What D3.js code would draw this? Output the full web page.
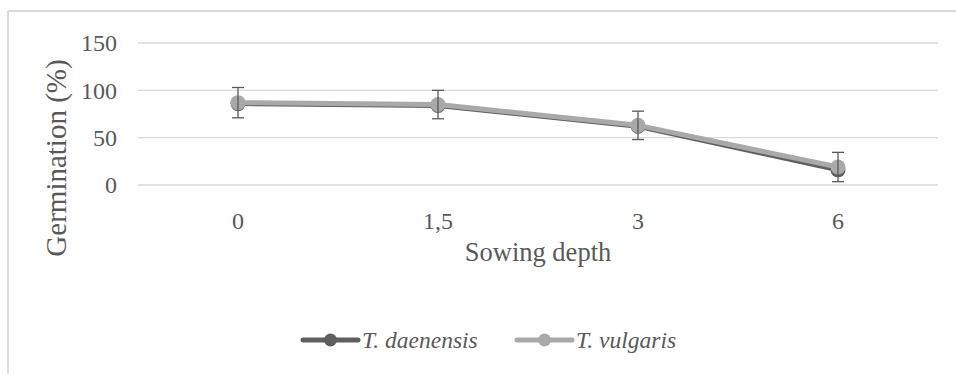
<html>
<head>
<meta charset="utf-8">
<script src="https://d3js.org/d3.v7.min.js"></script>
<style>
    body { margin: 0; background: white; }
    text { font-family: "Liberation Serif", "Times New Roman", serif; fill: #595959; }
</style>
</head>
<body>
<script>
    var width = 956, height = 374;

    // data
    let depths = ["0", "1,5", "3", "6"];
    let daenensis = [86, 84, 62, 16];
    let vulgaris = [87, 85, 63, 19];
    let vulgarisErr = [16, 15, 15, 15.5];
    let yTicks = [0, 50, 100, 150];
    let seriesNames = ["T. daenensis", "T. vulgaris"];
    let colors = ["#5f5f5f", "#a9a9a9"];

    let svg = d3.select("body").append("svg")
        .attr("width", width)
        .attr("height", height);

    // chart border (top + left only visible)
    svg.append("line")
        .attr("x1", 8).attr("y1", 11).attr("x2", width).attr("y2", 11)
        .attr("stroke", "#d9d9d9").attr("stroke-width", 2);
    svg.append("line")
        .attr("x1", 8).attr("y1", 11).attr("x2", 8).attr("y2", height)
        .attr("stroke", "#d9d9d9").attr("stroke-width", 2);

    let x = d3.scalePoint()
        .domain(depths)
        .range([138, 938])
        .padding(0.5);

    let y = d3.scaleLinear()
        .domain([0, 150])
        .range([185, 43]);

    // gridlines
    yTicks.forEach(t => {
        svg.append("line")
            .attr("x1", 138).attr("x2", 938)
            .attr("y1", y(t)).attr("y2", y(t))
            .attr("stroke", "#d9d9d9")
            .attr("stroke-width", 1.3);
        svg.append("text")
            .attr("x", 117)
            .attr("y", y(t))
            .attr("dy", "0.35em")
            .attr("text-anchor", "end")
            .style("font-size", "24px")
            .text(t);
    });

    // x tick labels
    depths.forEach(d =>
        svg.append("text")
            .attr("x", x(d))
            .attr("y", 229)
            .attr("text-anchor", "middle")
            .style("font-size", "24px")
            .text(d)
    );

    // axis titles
    svg.append("text")
        .attr("x", 538)
        .attr("y", 261)
        .attr("text-anchor", "middle")
        .style("font-size", "26.5px")
        .text("Sowing depth");

    svg.append("text")
        .attr("transform", "translate(66,158) rotate(-90)")
        .attr("text-anchor", "middle")
        .style("font-size", "29px")
        .text("Germination (%)");

    let line = d3.line()
        .x((d, i) => x(depths[i]))
        .y(d => y(d));

    let allSeries = [daenensis, vulgaris];
    allSeries.forEach((vals, s) => {
        svg.append("path")
            .datum(vals)
            .attr("d", line)
            .attr("fill", "none")
            .attr("stroke", colors[s])
            .attr("stroke-width", 5)
            .attr("stroke-linejoin", "round")
            .attr("stroke-linecap", "round");

        svg.selectAll(null)
            .data(vals)
            .enter()
            .append("circle")
            .attr("cx", (d, i) => x(depths[i]))
            .attr("cy", d => y(d))
            .attr("r", 7.5)
            .attr("fill", colors[s]);
    });

    // error bars (T. vulgaris)
    vulgaris.forEach((v, i) => {
        let cx = x(depths[i]);
        let top = y(v + vulgarisErr[i]), bot = y(v - vulgarisErr[i]);
        let g = svg.append("g").attr("stroke", "#595959").attr("stroke-width", 1.3);
        g.append("line").attr("x1", cx).attr("x2", cx).attr("y1", top).attr("y2", bot);
        g.append("line").attr("x1", cx - 6).attr("x2", cx + 6).attr("y1", top).attr("y2", top);
        g.append("line").attr("x1", cx - 6).attr("x2", cx + 6).attr("y1", bot).attr("y2", bot);
    });

    // legend
    let legendX = [303, 517];
    seriesNames.forEach((name, s) => {
        let lx = legendX[s];
        svg.append("line")
            .attr("x1", lx).attr("x2", lx + 55)
            .attr("y1", 340).attr("y2", 340)
            .attr("stroke", colors[s])
            .attr("stroke-width", 5)
            .attr("stroke-linecap", "round");
        svg.append("circle")
            .attr("cx", lx + 27.5).attr("cy", 340)
            .attr("r", 6.5)
            .attr("fill", colors[s]);
        svg.append("text")
            .attr("x", lx + 59)
            .attr("y", 347.5)
            .style("font-size", "23.5px")
            .style("font-style", "italic")
            .text(name);
    });
</script>
</body>
</html>
